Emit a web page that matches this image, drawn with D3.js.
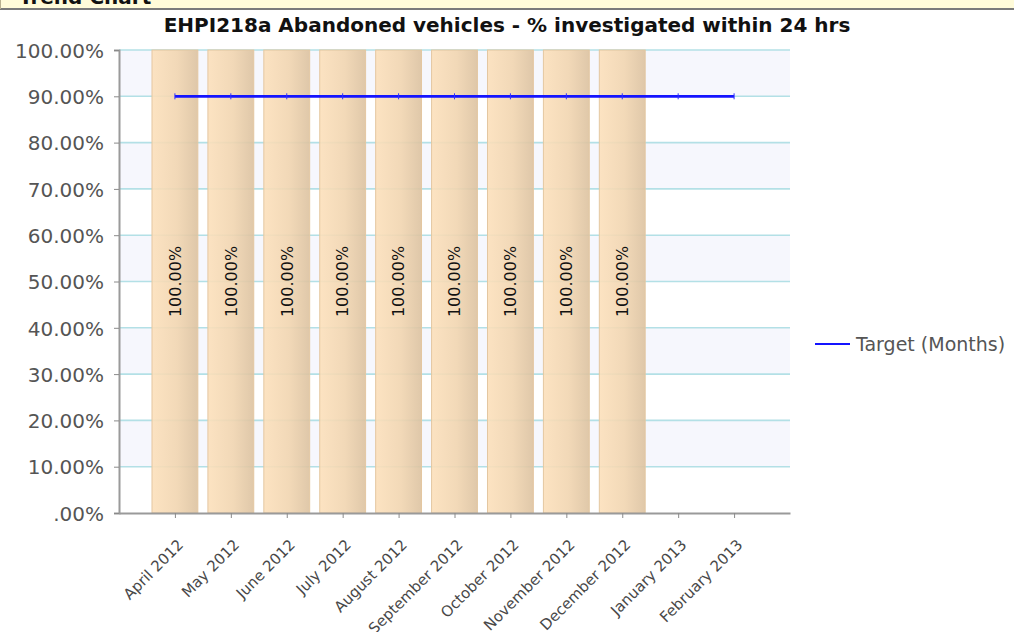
<!DOCTYPE html>
<html>
<head>
<meta charset="utf-8">
<script src="https://cdn.jsdelivr.net/npm/d3@7"></script>
<style>
  html, body { margin: 0; padding: 0; background: #fff; }
  svg { display: block; }
</style>
</head>
<body>
<svg id="chart" width="1014" height="632"></svg>
<script>
const headerText = "Trend Chart";
const chartTitle = "EHPI218a Abandoned vehicles - % investigated within 24 hrs";
const months = ["April 2012","May 2012","June 2012","July 2012","August 2012","September 2012","October 2012","November 2012","December 2012","January 2013","February 2013"];
const actualValues = [100,100,100,100,100,100,100,100,100,null,null];
const targetValues = [90,90,90,90,90,90,90,90,90,90,90];
const yTickValues = [0,10,20,30,40,50,60,70,80,90,100];
const legendLabel = "Target (Months)";

(function(){
const svg = d3.select("#chart");
const font = "'DejaVu Sans', Verdana, sans-serif";

// header strip
svg.append("rect").attr("x",0).attr("y",0).attr("width",1014).attr("height",8).attr("fill","#fffbd9");
svg.append("text").attr("x",19).attr("y",4).attr("font-family",font).attr("font-weight","bold")
  .attr("font-size",20).attr("fill","#111").text(headerText);
svg.append("rect").attr("x",0).attr("y",8).attr("width",1014).attr("height",2).attr("fill","#7a7a7a");
svg.append("rect").attr("x",0).attr("y",0).attr("width",1).attr("height",9).attr("fill","#b8b090");

const pL = 119, pR = 790, pT = 50, pB = 513;
const x = d3.scalePoint().domain(months).range([pL, pR]).padding(1);
const y = d3.scaleLinear().domain([0,100]).range([pB, pT]);
const barW = x.step() * 0.82;

// alternating background bands
const bands = d3.range(10).filter(i => i % 2 === 1);
svg.append("g").selectAll("rect").data(bands).join("rect")
  .attr("x", pL).attr("width", pR-pL)
  .attr("y", d => y(d*10+10)).attr("height", d => y(d*10) - y(d*10+10))
  .attr("fill","#f6f7fd");

// gridlines
svg.append("g").selectAll("line").data(yTickValues.filter(v=>v>0)).join("line")
  .attr("x1", pL).attr("x2", pR).attr("y1", d=>y(d)).attr("y2", d=>y(d))
  .attr("stroke","#b3e0e6").attr("stroke-width",1.6);

// gradient
const defs = svg.append("defs");
const grad = defs.append("linearGradient").attr("id","barGrad").attr("x1","0%").attr("x2","100%").attr("y1","0%").attr("y2","0%");
grad.append("stop").attr("offset","0%").attr("stop-color","#fce0bb");
grad.append("stop").attr("offset","55%").attr("stop-color","#f1d5b0");
grad.append("stop").attr("offset","100%").attr("stop-color","#dcc2a0");

const barData = months.map((m,i)=>({m, v: actualValues[i]})).filter(d => d.v !== null);
svg.append("g").selectAll("rect").data(barData).join("rect")
  .attr("x", d => x(d.m) - barW/2).attr("width", barW)
  .attr("y", d => y(d.v)).attr("height", d => pB - y(d.v))
  .attr("fill","url(#barGrad)").attr("fill-opacity",0.9)
  .attr("stroke","#e4c7a1").attr("stroke-width",1);

// bar labels
svg.append("g").selectAll("text").data(barData).join("text")
  .attr("transform", d => `translate(${x(d.m)},${(y(d.v)+pB)/2}) rotate(-90)`)
  .attr("text-anchor","middle").attr("dy","0.36em")
  .attr("font-family",font).attr("font-size",16).attr("fill","#111")
  .text(d => d3.format(".2f")(d.v) + "%");

// target line
const line = d3.line().x(d => x(d.m)).y(d => y(d.v));
const tData = months.map((m,i)=>({m, v: targetValues[i]}));
svg.append("path").datum(tData).attr("d", line).attr("fill","none").attr("stroke","#1414ff").attr("stroke-width",2.8);
svg.append("g").selectAll("line").data(tData).join("line")
  .attr("x1", d=>x(d.m)).attr("x2", d=>x(d.m)).attr("y1", d=>y(d.v)-3).attr("y2", d=>y(d.v)+3)
  .attr("stroke","#3030ff").attr("stroke-width",1);

// y axis
const fmtY = v => { const s = d3.format(".2f")(v); return (s.startsWith("0.") ? s.slice(1) : s) + "%"; };
const yAxis = svg.append("g").attr("transform", `translate(${pL},0)`)
  .call(d3.axisLeft(y).tickValues(yTickValues).tickFormat(fmtY).tickSize(5).tickPadding(10));
yAxis.select(".domain").attr("stroke","#9a9a9a").attr("stroke-width",2);
yAxis.selectAll(".tick line").attr("stroke","#8a8a8a");
yAxis.selectAll("text").attr("font-family",font).attr("font-size",20).attr("fill","#555").attr("dy","0.36em");

// x axis
const xAxis = svg.append("g").attr("transform", `translate(0,${pB})`)
  .call(d3.axisBottom(x).tickSize(5).tickSizeOuter(0));
xAxis.select(".domain").attr("stroke","#9a9a9a").attr("stroke-width",2);
xAxis.selectAll(".tick line").attr("stroke","#8a8a8a");
xAxis.selectAll("text").attr("font-family",font).attr("font-size",15).attr("fill","#484848")
  .attr("text-anchor","end").attr("dy","0.3em")
  .attr("transform","translate(0,24) rotate(-45)");

// title
svg.append("text").attr("x", 507).attr("y", 32).attr("text-anchor","middle")
  .attr("font-family",font).attr("font-weight","bold").attr("font-size",20).attr("fill","#111")
  .text(chartTitle);

// legend
svg.append("line").attr("x1",815).attr("x2",850).attr("y1",344).attr("y2",344).attr("stroke","#1414ff").attr("stroke-width",2);
svg.append("text").attr("x",856).attr("y",344).attr("dy","0.36em").attr("font-family",font).attr("font-size",19).attr("fill","#555").text(legendLabel);
})();
</script>
</body>
</html>
